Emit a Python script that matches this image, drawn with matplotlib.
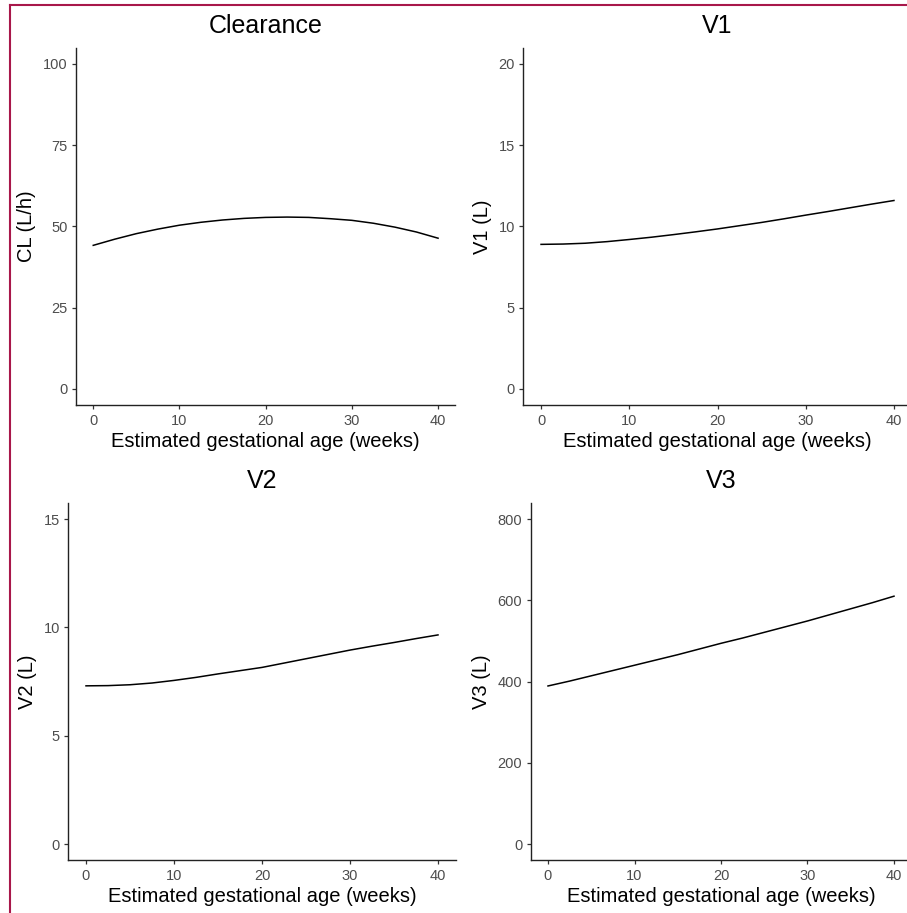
import matplotlib.pyplot as plt
from matplotlib.lines import Line2D

plt.rcParams['font.family'] = ['Liberation Sans', 'DejaVu Sans']

# gestational age (weeks)
semanas = [0, 2.5, 5, 7.5, 10, 12.5, 15, 17.5, 20, 22.5, 25, 27.5, 30, 32.5, 35, 37.5, 40]

# valores
cl = [44.2, 46.1, 47.8, 49.2, 50.4, 51.3, 52.0, 52.5, 52.8, 52.9, 52.8, 52.4, 51.9, 51.0, 49.8, 48.3, 46.4]
v1 = [8.9, 8.92, 8.97, 9.07, 9.2, 9.34, 9.5, 9.67, 9.85, 10.05, 10.25, 10.47, 10.7, 10.92, 11.15, 11.38, 11.6]
v2 = [7.3, 7.31, 7.35, 7.43, 7.55, 7.69, 7.85, 8.0, 8.15, 8.35, 8.55, 8.75, 8.95, 9.13, 9.3, 9.48, 9.65]
v3 = [389, 401, 414, 427, 440, 453, 466, 480, 494, 507, 521, 535, 549, 564, 579, 594, 610]

titulos = ['Clearance', 'V1', 'V2', 'V3']
rotulos_y = ['CL (L/h)', 'V1 (L)', 'V2 (L)', 'V3 (L)']
ticks_y = [[0, 25, 50, 75, 100], [0, 5, 10, 15, 20], [0, 5, 10, 15], [0, 200, 400, 600, 800]]
ticks_x = [0, 10, 20, 30, 40]
rotulo_x = 'Estimated gestational age (weeks)'

W, H = 907, 913
fig = plt.figure(figsize=(W / 100, H / 100), dpi=100)

# caixas dos paineis em pixels: esquerda, direita, topo, base
caixas = [(76, 455.3, 47.75, 405.25),
          (523.4, 911.6, 47.75, 405.25),
          (68.4, 455.6, 502.75, 860.25),
          (530.7, 911.3, 502.75, 860.25)]

series = [cl, v1, v2, v3]
cinza = '#4D4D4D'

for i in range(4):
    l, r, t, b = caixas[i]
    ax = fig.add_axes([l / W, 1 - b / H, (r - l) / W, (b - t) / H])
    ax.plot(semanas, series[i], color='black', lw=1.1)
    ax.set_xlim(-2, 42)
    top = ticks_y[i][-1]
    ax.set_ylim(-0.05 * top, 1.05 * top)
    ax.set_xticks(ticks_x)
    ax.set_yticks(ticks_y[i])
    ax.spines['top'].set_visible(False)
    ax.spines['right'].set_visible(False)
    for s in ['left', 'bottom']:
        ax.spines[s].set_linewidth(1.0)
        ax.spines[s].set_color('#222222')
    ax.tick_params(length=3, width=0.9, color='#333333', labelcolor=cinza,
                   labelsize=10.5, pad=3)
    ax.set_title(titulos[i], fontsize=18, pad=10.5)
    ax.set_xlabel(rotulo_x, fontsize=14.5, labelpad=3)
    ax.set_ylabel(rotulos_y[i], fontsize=14.5, labelpad=5)

# moldura
cor_borda = '#A8174A'
fig.add_artist(Line2D([9.5 / W, 9.5 / W], [0, 1 - 5 / H], transform=fig.transFigure,
                      color=cor_borda, lw=1.5))
fig.add_artist(Line2D([9.5 / W, 1], [1 - 5 / H, 1 - 5 / H], transform=fig.transFigure,
                      color=cor_borda, lw=1.5))

fig.savefig('out.png', dpi=100)
